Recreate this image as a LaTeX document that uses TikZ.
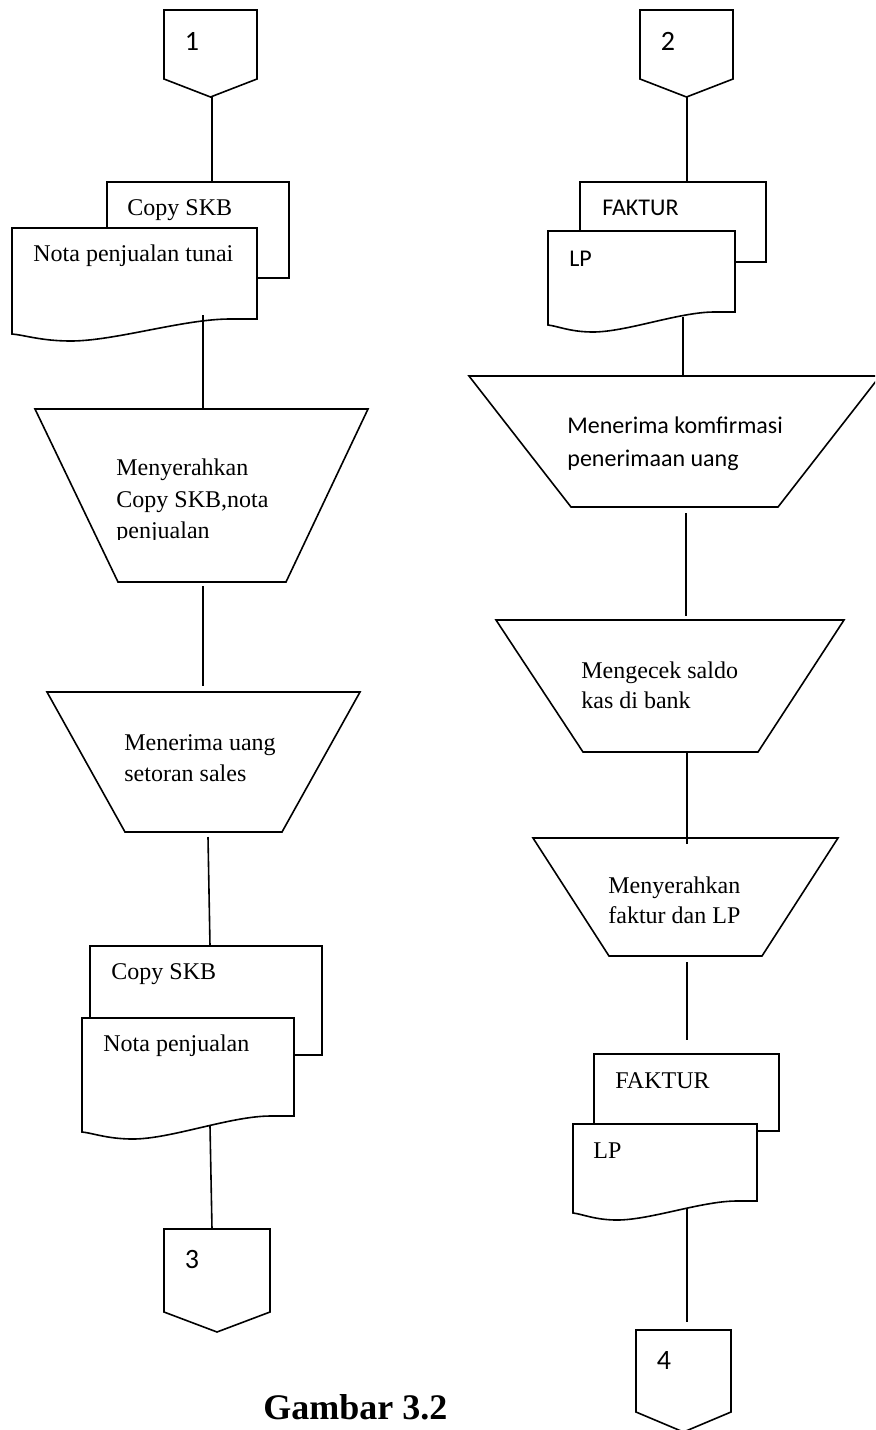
\documentclass[tikz,border=0pt]{standalone}
\usepackage{fontspec}
\setmainfont{Liberation Serif}
\newfontfamily\calfont{Carlito}

% off-page connector: name, left, right, top, side bottom, tip
\newcommand\offpage[6]{%
  \draw[box] (#2,#4) -- (#3,#4) -- (#3,#5) -- ({(#2+#3)/2},#6) -- (#2,#5) -- cycle;
  \coordinate (#1) at ({(#2+#3)/2},{(#4+#5)/2});}

% front sheet of a document stack: left, right, top, right bottom, left bottom
\newcommand\frontdoc[5]{%
  \pgfmathsetmacro\dw{#2-#1}%
  \pgfmathsetmacro\ymin{#5+7}%
  \draw[box] (#1,#3) -- (#2,#3) -- (#2,#4) -- ({#1+0.89*\dw},#4)
    .. controls ({#1+0.7*\dw},#4) and ({#1+0.42*\dw},\ymin) .. ({#1+0.24*\dw},\ymin)
    .. controls ({#1+0.12*\dw},\ymin) and ({#1+0.05*\dw},{#5+1}) .. (#1,#5) -- cycle;}

\begin{document}
\begin{tikzpicture}[x=0.5pt,y=-0.5pt,
  flow/.style={line width=0.8pt, line join=miter},
  box/.style={flow, fill=white},
  serif/.style={inner sep=0pt, anchor=base west, font=\fontsize{12}{15}\selectfont},
  sans/.style={inner sep=0pt, anchor=base west, font=\calfont\fontsize{12}{15}\selectfont},
  digit/.style={inner sep=0pt, font=\calfont\fontsize{14}{16}\selectfont},
]
\useasboundingbox (0,0) rectangle (875,1430);
\clip (0,0) rectangle (875,1430);

% ---------------- left column ----------------
\offpage{c1}{164}{257}{10}{79}{97}
\node[digit] (c1-label) at (192,41) {1};

% document stack: Copy SKB / Nota penjualan tunai
\draw[box] (107,182) rectangle (289,278);
\frontdoc{12}{257}{228}{319}{334}
\node[serif] (d1-a) at (127,215) {Copy SKB};
\node[serif] (d1-b) at (33,261) {Nota penjualan tunai};

% manual operation 1
\draw[box] (35,409) -- (368,409) -- (286,582) -- (118,582) -- cycle;
\begin{scope}
  \clip (100,440) rectangle (380,539.5);
  \node[serif] (p1-a) at (116,475) {Menyerahkan};
  \node[serif] (p1-b) at (116,507) {Copy SKB,nota};
  \node[serif] (p1-c) at (116,538) {penjualan};
\end{scope}

% manual operation 2
\draw[box] (47,692) -- (360,692) -- (282,832) -- (125,832) -- cycle;
\node[serif] (p2-a) at (124,750) {Menerima uang};
\node[serif] (p2-b) at (124,781) {setoran sales};

% document stack: Copy SKB / Nota penjualan
\draw[box] (90,946) rectangle (322,1055);
\frontdoc{82}{294}{1018}{1116}{1132}
\node[serif] (d3-a) at (111,979) {Copy SKB};
\node[serif] (d3-b) at (103,1051) {Nota penjualan};

\offpage{c3}{164}{270}{1229}{1312}{1332}
\node[digit] (c3-label) at (192,1259) {3};

% ---------------- right column ----------------
\offpage{c2}{640}{733}{10}{79}{97}
\node[digit] (c2-label) at (668,41) {2};

% document stack: FAKTUR / LP
\draw[box] (580,182) rectangle (766,262);
\frontdoc{548}{735}{231}{312}{325}
\node[sans] (d2-a) at (602,215) {FAKTUR};
\node[sans] (d2-b) at (569,266) {LP};

% manual operation 3
\draw[box] (469,376) -- (880,376) -- (778,507) -- (571,507) -- cycle;
\node[sans] (p3-a) at (567,433) {Menerima komfirmasi};
\node[sans] (p3-b) at (567,466) {penerimaan uang};

% manual operation 4
\draw[box] (496,620) -- (844,620) -- (758,752) -- (583,752) -- cycle;
\node[serif] (p4-a) at (581,678) {Mengecek saldo};
\node[serif] (p4-b) at (581,708) {kas di bank};

% manual operation 5
\draw[box] (533,838) -- (838,838) -- (762,956) -- (609,956) -- cycle;
\node[serif] (p5-a) at (608,893) {Menyerahkan};
\node[serif] (p5-b) at (608,923) {faktur dan LP};

% document stack: FAKTUR / LP
\draw[box] (594,1054) rectangle (779,1131);
\frontdoc{573}{757}{1124}{1201}{1213}
\node[serif] (d4-a) at (615,1088) {FAKTUR};
\node[serif] (d4-b) at (593,1158) {LP};

\offpage{c4}{636}{731}{1330}{1412}{1432}
\node[digit] (c4-label) at (664,1360) {4};

% ---------------- flow lines ----------------
\coordinate (c1-tip) at (212,97);   \coordinate (d1-top) at (212,182);
\coordinate (d1-out) at (203,315);  \coordinate (p1-in) at (203,409);
\coordinate (p1-out) at (203,586);  \coordinate (p2-in) at (203,686);
\coordinate (p2-out) at (208,837);  \coordinate (d3-top) at (210,946);
\coordinate (d3-out) at (210,1126); \coordinate (c3-top) at (212,1229);
\coordinate (c2-tip) at (687,97);   \coordinate (d2-top) at (687,182);
\coordinate (d2-out) at (683,317);  \coordinate (p3-in) at (683,376);
\coordinate (p3-out) at (686,513);  \coordinate (p4-in) at (686,616);
\coordinate (p4-out) at (687,752);  \coordinate (p5-in) at (687,844);
\coordinate (p5-out) at (687,962);  \coordinate (d4-top) at (687,1040);
\coordinate (d4-out) at (687,1209); \coordinate (c4-top) at (687,1322);

\foreach \a/\b in {c1-tip/d1-top, d1-out/p1-in, p1-out/p2-in, p2-out/d3-top,
                   d3-out/c3-top, c2-tip/d2-top, d2-out/p3-in, p3-out/p4-in,
                   p4-out/p5-in, p5-out/d4-top, d4-out/c4-top}
  \draw[flow] (\a) -- (\b);

% caption
\node[inner sep=0pt, anchor=base west, font=\bfseries\fontsize{18}{20}\selectfont]
  (caption) at (263,1419) {Gambar 3.2};
\end{tikzpicture}
\end{document}
